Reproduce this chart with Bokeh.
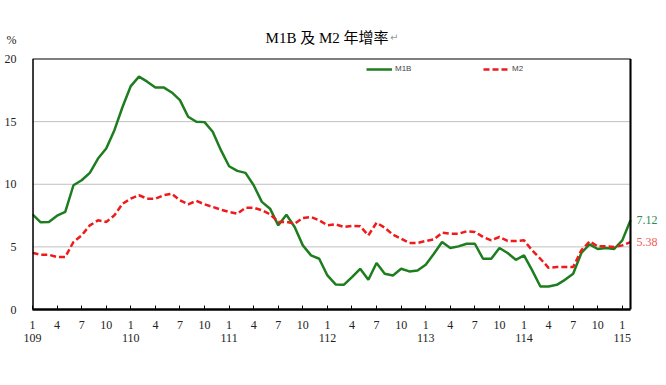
from bokeh.plotting import figure
from bokeh.models import (Range1d, FixedTicker, LinearAxis, Label, Legend, LegendItem, BoxAnnotation)
from bokeh.embed import file_html
from bokeh.resources import INLINE

# ---- data (monthly, ROC year 109/1 .. 115/2) ----
m1b = [7.6, 6.96, 6.99, 7.49, 7.79, 9.92, 10.32, 10.91, 12.05, 12.85, 14.32, 16.19, 17.84, 18.59,
       18.19, 17.73, 17.73, 17.33, 16.72, 15.39, 14.99, 14.96, 14.19, 12.72, 11.44, 11.07, 10.91, 9.92, 8.59, 8.05,
       6.72, 7.57, 6.59, 5.12, 4.32, 4.05, 2.72, 2.0, 1.97, 2.59, 3.25, 2.37, 3.71, 2.85, 2.72, 3.25,
       3.04, 3.12, 3.57, 4.45, 5.39, 4.91, 5.04, 5.25, 5.25, 4.05, 4.05, 4.91, 4.51, 3.97, 4.32,
       3.12, 1.84, 1.84, 1.97, 2.37, 2.85, 4.51, 5.2, 4.83, 4.91, 4.83, 5.52, 7.12]
m2 = [4.53, 4.37, 4.37, 4.19, 4.19, 5.39, 5.92, 6.72, 7.12, 6.99, 7.52, 8.45, 8.85, 9.12,
      8.85, 8.85, 9.12, 9.25, 8.72, 8.4, 8.67, 8.4, 8.19, 7.97, 7.79, 7.65, 8.13, 8.13, 7.92, 7.6,
      6.99, 6.99, 6.85, 7.31, 7.39, 7.12, 6.72, 6.8, 6.59, 6.67, 6.64, 5.92, 6.93, 6.53, 5.97, 5.65,
      5.31, 5.31, 5.47, 5.6, 6.13, 6.05, 6.05, 6.24, 6.19, 5.79, 5.52, 5.79, 5.47, 5.47, 5.52,
      4.72, 4.05, 3.33, 3.39, 3.39, 3.39, 4.72, 5.44, 5.04, 5.04, 4.99, 5.12, 5.38]
month_ticks = ["1", "4", "7", "10"]
year_labels = ["109", "110", "111", "112", "113", "114", "115"]
y_ticks = [0, 5, 10, 15, 20]
title_text = "M1B 及 M2 年增率"
unit_text = "%"

idx = list(range(len(m1b)))
last = len(m1b) - 1
YMAX = y_ticks[-1]
SERIF = "'Liberation Serif', 'Noto Sans CJK TC'"
GREEN = "#1e7d1e"
RED = "#f01a1a"

# frame: canvas x 32..666, y 0..309; data box 0..73 x 0..20 maps to x 32..630
PX_X = 598.0 / last
PX_Y = 309.0 - 58.5
x_end = 634.0 / PX_X
y_end = YMAX * 309.0 / PX_Y
UNIT_POS = YMAX * (309.0 - 39.0) / PX_Y

p = figure(width=666, height=385, output_backend="svg", toolbar_location=None,
           x_range=Range1d(0, x_end), y_range=Range1d(0, y_end),
           min_border_left=32, min_border_right=0, min_border_top=0, min_border_bottom=76)
p.xaxis.visible = False
p.yaxis.visible = False
p.outline_line_color = None
p.background_fill_color = "white"
p.border_fill_color = "white"
p.xgrid.visible = False
p.ygrid.visible = False

# horizontal grid lines inside the box
gy = y_ticks[1:-1]
p.segment(x0=[0] * len(gy), x1=[last] * len(gy), y0=gy, y1=gy,
          line_color="#808080", line_dash="1 1", line_width=1)

# left axis (labels only, plus unit)
ya = LinearAxis(ticker=FixedTicker(ticks=y_ticks + [UNIT_POS]))
ya.major_label_overrides = {UNIT_POS: unit_text}
ya.axis_line_color = None
ya.major_tick_line_color = None
ya.minor_tick_line_color = None
ya.major_label_standoff = 10
ya.major_label_text_font = SERIF
ya.major_label_text_font_size = "12px"
ya.major_label_text_color = "#222222"
p.add_layout(ya, "left")

# bottom axis: months
mt = list(range(0, len(m1b), 3))
xa = LinearAxis(ticker=FixedTicker(ticks=mt), bounds=(0, last))
xa.major_label_overrides = {t: month_ticks[(t // 3) % 4] for t in mt}
xa.axis_line_width = 2.5
xa.axis_line_color = "black"
xa.major_tick_in = 4
xa.major_tick_out = 0
xa.major_tick_line_color = "black"
xa.minor_tick_line_color = None
xa.major_label_standoff = 11
xa.major_label_text_font = SERIF
xa.major_label_text_font_size = "12px"
xa.major_label_text_color = "#222222"
p.add_layout(xa, "below")

# bottom axis: years
yt = list(range(0, len(m1b), 12))
xb = LinearAxis(ticker=FixedTicker(ticks=yt), bounds=(0, last))
xb.major_label_overrides = {t: year_labels[i] for i, t in enumerate(yt)}
xb.axis_line_color = None
xb.major_tick_line_color = None
xb.minor_tick_line_color = None
xb.major_label_standoff = -4
xb.major_label_text_font = SERIF
xb.major_label_text_font_size = "12px"
xb.major_label_text_color = "#222222"
p.add_layout(xb, "below")

# box border
p.add_layout(BoxAnnotation(left=0, right=last, bottom=0, top=YMAX, fill_alpha=0,
                           line_color="black", line_alpha=1, line_width=1.2))
p.add_layout(BoxAnnotation(left=0, right=0, bottom=0, top=YMAX, fill_alpha=0,
                           line_color="black", line_alpha=1, line_width=2.5))
p.add_layout(BoxAnnotation(left=last, right=last, bottom=0, top=YMAX, fill_alpha=0,
                           line_color="black", line_alpha=1, line_width=2))

r1 = p.line(idx, m1b, line_color=GREEN, line_width=2.5)
r2 = p.line(idx, m2, line_color=RED, line_width=2.5, line_dash="6 3")

leg = Legend(items=[LegendItem(label="M1B", renderers=[r1]), LegendItem(label="M2", renderers=[r2])],
             orientation="horizontal", location=(334, 236))
leg.glyph_width = 26
leg.glyph_height = 8
leg.label_standoff = 3
leg.spacing = 68
leg.padding = 0
leg.margin = 0
leg.border_line_color = None
leg.background_fill_alpha = 0
leg.label_text_font = "Liberation Sans"
leg.label_text_font_size = "8px"
leg.label_height = 8
p.add_layout(leg)

# title
p.add_layout(Label(x=0, y=YMAX, x_offset=356, y_offset=21.5, text=title_text,
                   text_align="right", text_baseline="middle", text_font=SERIF,
                   text_font_size="15px", text_color="black"))
p.add_layout(Label(x=0, y=YMAX, x_offset=357.5, y_offset=21.5, text="\u21b5",
                   text_align="left", text_baseline="middle", text_font="DejaVu Sans",
                   text_font_size="10px", text_color="#999999"))

# end labels
p.add_layout(Label(x=last, y=m1b[-1], x_offset=6, text=f"{m1b[-1]:.2f}", text_align="left",
                   text_baseline="middle", text_font=SERIF, text_font_size="12px", text_color="#2e8b57"))
p.add_layout(Label(x=last, y=m2[-1], x_offset=6, text=f"{m2[-1]:.2f}", text_align="left",
                   text_baseline="middle", text_font=SERIF, text_font_size="12px", text_color="#f05a5a"))

open("out.html", "w").write(file_html(p, INLINE))
